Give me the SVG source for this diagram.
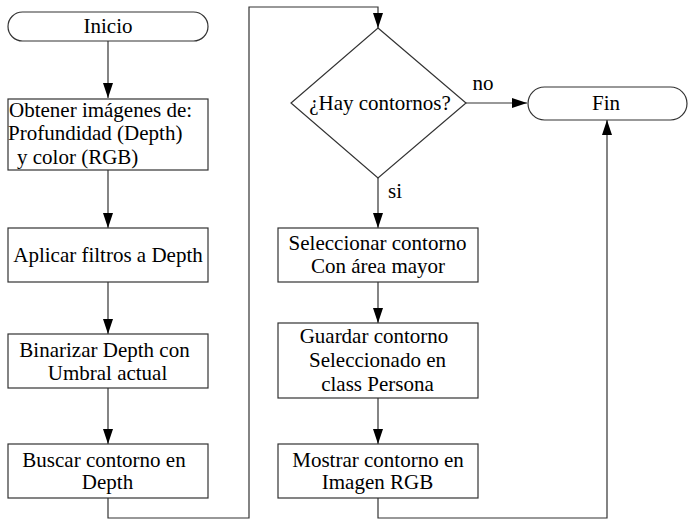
<svg xmlns="http://www.w3.org/2000/svg" width="695" height="527" viewBox="0 0 695 527">
<defs>
<marker id="a" viewBox="0 0 15 10" refX="15" refY="5" markerWidth="15" markerHeight="10" markerUnits="userSpaceOnUse" orient="auto">
<path d="M0,0L15,5L0,10z" fill="#000"/>
</marker>
</defs>
<rect width="695" height="527" fill="#fff"/>
<g id="connectors" fill="none" stroke="#333" stroke-width="1.2">
<path d="M108,41V98" marker-end="url(#a)"/>
<path d="M108,170V228" marker-end="url(#a)"/>
<path d="M108,282V334" marker-end="url(#a)"/>
<path d="M108,388V444" marker-end="url(#a)"/>
<path d="M108,498V518H249V7H378V28" marker-end="url(#a)"/>
<path d="M378,178V228" marker-end="url(#a)"/>
<path d="M466,103H527" marker-end="url(#a)"/>
<path d="M378,282V323" marker-end="url(#a)"/>
<path d="M378,398V444" marker-end="url(#a)"/>
<path d="M378,498V518H607V120" marker-end="url(#a)"/>
</g>
<text x="483" y="90" font-family="Liberation Serif" font-size="21" text-anchor="middle">no</text>
<text x="395" y="198" font-family="Liberation Serif" font-size="21" text-anchor="middle">si</text>
<g id="inicio">
<rect x="8" y="12" width="200" height="29" rx="14.5" fill="#fff" stroke="#333" stroke-width="1.2"/>
<text x="108" y="33" font-family="Liberation Serif" font-size="21" text-anchor="middle">Inicio</text>
</g>
<g id="obtener">
<rect x="8" y="99" width="200" height="71" fill="#fff" stroke="#333" stroke-width="1.2"/>
<text x="9" y="117" font-family="Liberation Serif" font-size="21">Obtener imágenes de:</text>
<text x="8" y="140" font-family="Liberation Serif" font-size="21">Profundidad (Depth)</text>
<text x="17" y="164" font-family="Liberation Serif" font-size="21">y color (RGB)</text>
</g>
<g id="filtros">
<rect x="8" y="228" width="200" height="54" fill="#fff" stroke="#333" stroke-width="1.2"/>
<text x="108" y="262" font-family="Liberation Serif" font-size="21" text-anchor="middle">Aplicar filtros a Depth</text>
</g>
<g id="binarizar">
<rect x="8" y="334" width="200" height="54" fill="#fff" stroke="#333" stroke-width="1.2"/>
<text x="104.5" y="357" font-family="Liberation Serif" font-size="21" text-anchor="middle">Binarizar Depth con</text>
<text x="107.5" y="380" font-family="Liberation Serif" font-size="21" text-anchor="middle">Umbral actual</text>
</g>
<g id="buscar">
<rect x="8" y="444" width="200" height="54" fill="#fff" stroke="#333" stroke-width="1.2"/>
<text x="104" y="467" font-family="Liberation Serif" font-size="21" text-anchor="middle">Buscar contorno en</text>
<text x="107.5" y="489" font-family="Liberation Serif" font-size="21" text-anchor="middle">Depth</text>
</g>
<g id="decision">
<path d="M378,28L466,103L378,178L291,103z" fill="#fff" stroke="#333" stroke-width="1.2"/>
<text x="380" y="110" font-family="Liberation Serif" font-size="21" text-anchor="middle">¿Hay contornos?</text>
</g>
<g id="fin">
<rect x="528" y="87" width="159" height="33" rx="16.5" fill="#fff" stroke="#333" stroke-width="1.2"/>
<text x="606" y="110" font-family="Liberation Serif" font-size="21" text-anchor="middle">Fin</text>
</g>
<g id="seleccionar">
<rect x="278" y="228" width="200" height="54" fill="#fff" stroke="#333" stroke-width="1.2"/>
<text x="377.5" y="250" font-family="Liberation Serif" font-size="21" text-anchor="middle">Seleccionar contorno</text>
<text x="378" y="273" font-family="Liberation Serif" font-size="21" text-anchor="middle">Con área mayor</text>
</g>
<g id="guardar">
<rect x="278" y="323" width="200" height="75" fill="#fff" stroke="#333" stroke-width="1.2"/>
<text x="374" y="343" font-family="Liberation Serif" font-size="21" text-anchor="middle">Guardar contorno</text>
<text x="377.5" y="367" font-family="Liberation Serif" font-size="21" text-anchor="middle">Seleccionado en</text>
<text x="377.5" y="391" font-family="Liberation Serif" font-size="21" text-anchor="middle">class Persona</text>
</g>
<g id="mostrar">
<rect x="278" y="444" width="200" height="54" fill="#fff" stroke="#333" stroke-width="1.2"/>
<text x="378" y="467" font-family="Liberation Serif" font-size="21" text-anchor="middle">Mostrar contorno en</text>
<text x="377.5" y="489" font-family="Liberation Serif" font-size="21" text-anchor="middle">Imagen RGB</text>
</g>
</svg>
